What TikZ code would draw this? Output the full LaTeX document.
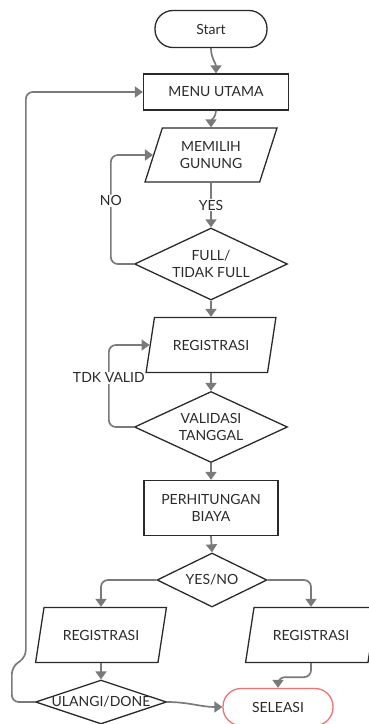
\documentclass[tikz,border=0pt]{standalone}
\usepackage{fontspec}
\setmainfont{Lato}
\usepackage{xcolor}
\usepackage{tikz}
\usetikzlibrary{shapes.geometric, arrows.meta, positioning}
\definecolor{linegray}{HTML}{7A7A7A}
\definecolor{boxdark}{HTML}{2A2A2A}
\definecolor{endred}{HTML}{EE7373}

\begin{document}
\begin{tikzpicture}[x=1pt,y=-1pt,>={Triangle[length=8pt,width=11pt]},
    every node/.style={font=\fontsize{14}{17}\selectfont,text=boxdark,align=center},
    terminal/.style={draw=boxdark,line width=1.3pt,rectangle,rounded corners=18pt,minimum width=112pt,minimum height=37pt},
    process/.style={draw=boxdark,line width=1.3pt,rectangle,minimum width=145pt,minimum height=36pt},
    inout/.style={draw=boxdark,line width=1.3pt,trapezium,trapezium left angle=70,trapezium right angle=110,trapezium stretches=true,minimum width=132pt,minimum height=55pt},
    decision/.style={draw=boxdark,line width=1.3pt,diamond,shape aspect=2.1,inner sep=0pt},
    flow/.style={->,draw=linegray,line width=1.7pt,rounded corners=7pt},
    tag/.style={fill=white,inner sep=1pt}]
    \useasboundingbox (0,0) rectangle (368,724);

    \node[terminal] (start) at (211,29) {Start};
    \node[process] (menu) at (216,92) {MENU UTAMA};
    \node[inout,minimum width=133pt,minimum height=54pt] (gunung) at (211,155) {MEMILIH\\GUNUNG};
    \node[decision,minimum width=153pt,minimum height=72pt] (full) at (211,264) {FULL/\\TIDAK FULL};
    \node[inout,minimum width=131pt] (regis) at (211,345) {REGISTRASI};
    \node[decision,minimum width=153pt,minimum height=71pt] (tanggal) at (211,427) {VALIDASI\\TANGGAL};
    \node[process,minimum width=134pt,minimum height=55pt] (biaya) at (211,508) {PERHITUNGAN\\BIAYA};
    \node[decision,shape aspect=2,minimum width=110pt,minimum height=54pt] (yesno) at (212,580) {YES/NO};
    \node[decision,shape aspect=3,minimum width=131pt,minimum height=44pt,label=center:ULANGI/DONE] (ulangi) at (101,702) {};
    \node[inout] (regkiri) at (101,635) {REGISTRASI};
    \node[inout] (regkanan) at (311,635) {REGISTRASI};
    \node[terminal,draw=endred,minimum width=110pt] (selesai) at (278,707) {SELEASI};

    \draw[flow] (start.south) to[out=-90,in=90] (menu.north);
    \draw[flow] (menu.south) to[out=-90,in=90] (gunung.north);
    \draw[flow] (gunung.south) -- node[tag] {YES} (full.north);
    \draw[flow] (full.west) -- ++(-23,0) |- node[tag,pos=0.29] {NO} (gunung.left side);
    \draw[flow] (full.south) -- (regis.north);
    \draw[flow] (regis.south) -- (tanggal.north);
    \draw[flow] (tanggal.west) -- ++(-25,0) |- node[tag,pos=0.3] {TDK VALID} (regis.left side);
    \draw[flow] (tanggal.south) -- (biaya.north);
    \draw[flow] (biaya.south) -- (yesno.north);
    \draw[flow] (yesno.west) -| (regkiri.north);
    \draw[flow] (yesno.east) -| (regkanan.north);
    \draw[flow] (regkiri.south) -- (ulangi.north);
    \draw[flow] (regkanan.south) -- ++(0,14) -| (selesai.north);
    \draw[flow] (ulangi.east) to[out=0,in=180] (selesai.west);
    \draw[flow] (ulangi.west) -- ++(-23,0) -- ++(0,-35) -- ++(14,-10) |- (menu.west);
\end{tikzpicture}
\end{document}
